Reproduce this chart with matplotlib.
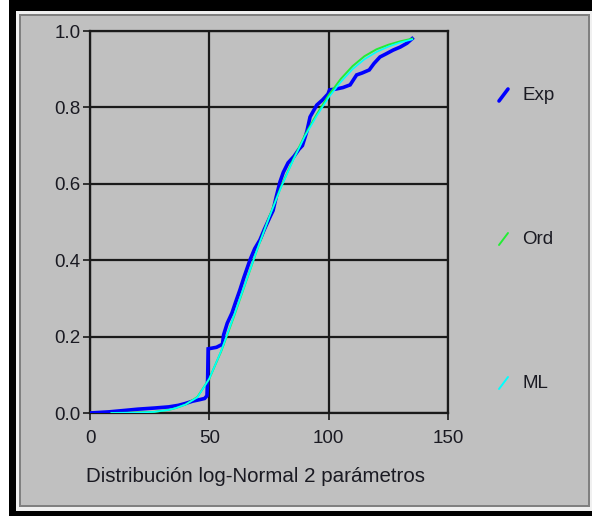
import matplotlib
matplotlib.use("Agg")
import matplotlib.pyplot as plt
from matplotlib.patches import Rectangle

plt.rcParams['font.family'] = ['Liberation Sans', 'DejaVu Sans']

# Empirical (Exp) curve
exp_x = [0, 8, 15, 20, 27, 33, 37, 40, 43, 46, 48, 49, 49.3, 49.5, 53, 55.5, 56, 57.5, 59.5, 61, 62.8,
         64.5, 67, 69, 71.2, 73, 75.4, 76.7, 78, 79.6, 81, 83, 85.5, 87.5, 89, 90.9, 92.2, 95, 97.5,
         99.7, 100.4, 103, 106, 109, 111.7, 114, 117, 119, 121.5, 124, 127, 130, 132.8, 135]
exp_y = [0.0, 0.003, 0.007, 0.010, 0.013, 0.016, 0.020, 0.025, 0.031, 0.035, 0.038, 0.045, 0.09, 0.168,
         0.172, 0.18, 0.205, 0.235, 0.262, 0.29, 0.322, 0.355, 0.40, 0.43, 0.453, 0.48, 0.513, 0.53,
         0.565, 0.605, 0.63, 0.655, 0.672, 0.69, 0.70, 0.738, 0.775, 0.806, 0.82, 0.835, 0.846, 0.848,
         0.852, 0.859, 0.885, 0.89, 0.898, 0.915, 0.932, 0.94, 0.95, 0.958, 0.968, 0.98]

# Fitted curves (Ord and ML)
fit_x = [9, 20, 27, 33, 36, 40, 45, 50, 55, 60, 65, 70, 75, 80, 85, 90, 95, 100, 105, 110, 115,
         120, 125, 130, 135]
ord_y = [0.0, 0.001, 0.003, 0.008, 0.013, 0.022, 0.042, 0.09, 0.162, 0.247, 0.337, 0.427, 0.512,
         0.592, 0.662, 0.727, 0.782, 0.832, 0.874, 0.908, 0.934, 0.952, 0.964, 0.973, 0.98]
ml_y = [0.0, 0.001, 0.003, 0.008, 0.013, 0.022, 0.041, 0.09, 0.163, 0.249, 0.338, 0.427, 0.511,
        0.59, 0.66, 0.724, 0.778, 0.826, 0.866, 0.9, 0.926, 0.945, 0.959, 0.97, 0.978]

series_names = ['Exp', 'Ord', 'ML']
series_colors = ['#0000ff', '#22ee33', '#00ffff']

W, H = 592, 516
fig = plt.figure(figsize=(W / 100, H / 100), dpi=100)
fig.patch.set_facecolor('white')

# Background frame axes (drawn first)
bax = fig.add_axes([0, 0, 1, 1], zorder=-5)
bax.set_xlim(0, W)
bax.set_ylim(H, 0)
bax.axis('off')

def prect(x0, y0, x1, y1, color):
    bax.add_patch(Rectangle((x0, y0), x1 - x0, y1 - y0, facecolor=color, edgecolor='none'))

prect(0, 0, W, H, 'white')
prect(9, 0, W, H, 'black')
prect(16, 11, W, 511, '#f0f0f0')
prect(19, 14, 590, 507, '#808080')
prect(21, 16, 588, 505, '#c0c0c0')

FS = 13.5
TXT = '#1a1a22'

ax = fig.add_axes([90 / W, 1 - 413 / H, (448 - 90) / W, (413 - 31) / H], zorder=1)
ax.set_facecolor('none')
ax.set_xlim(0, 150)
ax.set_ylim(0, 1.0)
ax.set_xticks([0, 50, 100, 150])
ax.set_yticks([0.0, 0.2, 0.4, 0.6, 0.8, 1.0])
ax.set_yticklabels(['0.0', '0.2', '0.4', '0.6', '0.8', '1.0'])
ax.grid(True, color='#1a1a1a', linewidth=1.6)
for s in ax.spines.values():
    s.set_color('#1a1a1a')
    s.set_linewidth(1.6)
ax.tick_params(axis='both', direction='out', length=5, width=1.2, color='#1a1a1a',
               labelsize=FS, labelcolor=TXT)
ax.tick_params(axis='x', pad=7)
ax.tick_params(axis='y', pad=2)

ax.plot(exp_x, exp_y, color=series_colors[0], linewidth=2.6, solid_joinstyle='miter', zorder=3)
ax.plot(fit_x, ord_y, color=series_colors[1], linewidth=1.4, zorder=4)
ax.plot(fit_x, ml_y, color=series_colors[2], linewidth=1.2, zorder=5)

# Legend area
lax = fig.add_axes([0, 0, 1, 1], zorder=2)
lax.set_xlim(0, W)
lax.set_ylim(H, 0)
lax.axis('off')
lax.set_facecolor('none')
lax.text(86, 476, 'Distribución log-Normal 2 parámetros', fontsize=14.8,
         color=TXT, ha='left', va='center')
leg_y = [95, 239, 383]
leg_w = [2.6, 1.4, 1.4]
for name, col, yy, lw in zip(series_names, series_colors, leg_y, leg_w):
    lax.plot([499, 508], [yy + 6, yy - 6], color=col, linewidth=lw, solid_capstyle='round')
    lax.text(522, yy, name, fontsize=FS, color=TXT, ha='left', va='center')

fig.savefig('out.png', dpi=100)
